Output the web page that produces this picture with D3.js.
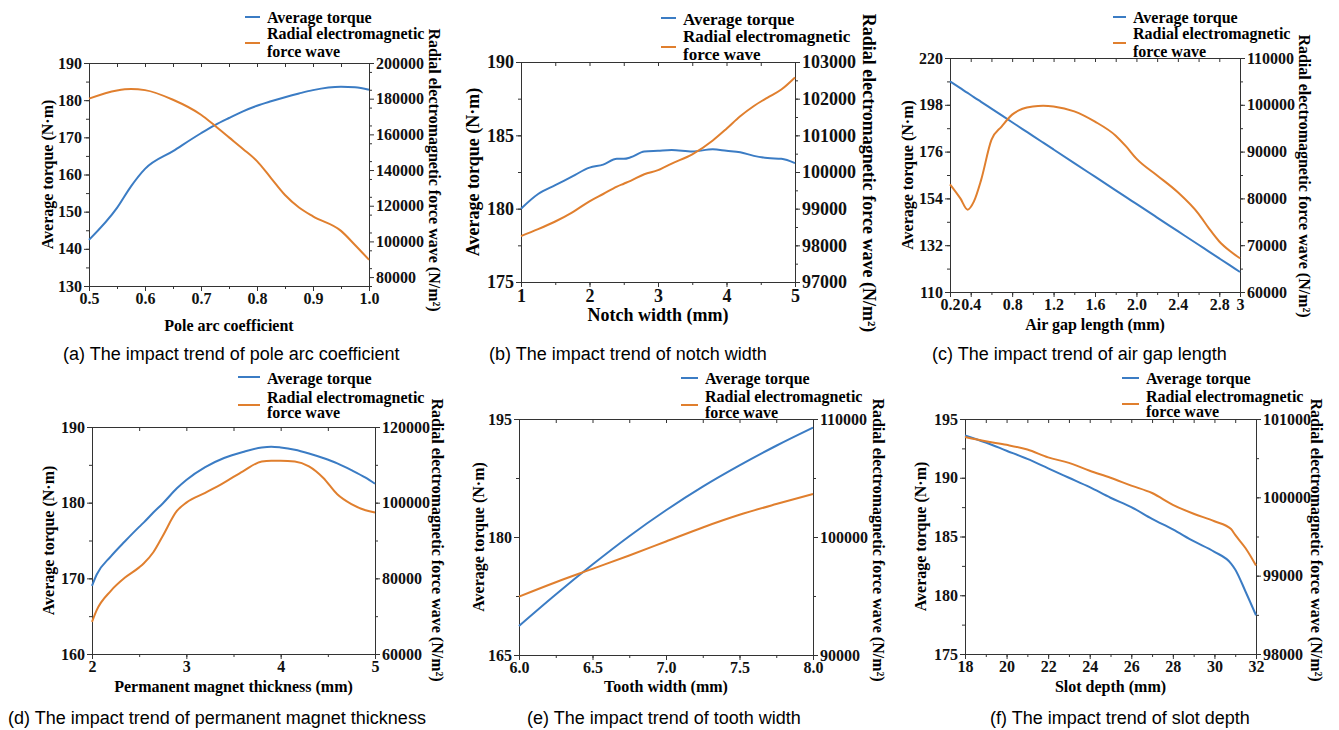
<!DOCTYPE html>
<html>
<head>
<meta charset="utf-8">
<script src="https://cdn.jsdelivr.net/npm/d3@7"></script>
<style>
  body { margin: 0; background: #fff; }
  svg { display: block; }
  .serif { font-family: "Times New Roman", "Liberation Serif", serif; font-weight: bold; }
  .caption { font-family: Arial, "Liberation Sans", sans-serif; font-size: 18px; }
</style>
</head>
<body>
<svg id="chart"></svg>
<script>
// (a) pole arc coefficient
const poleArcX = [0.5, 0.55, 0.575, 0.6, 0.65, 0.7, 0.725, 0.75, 0.775, 0.8, 0.825, 0.85, 0.875, 0.9, 0.95, 0.975, 1.0];
const poleArcTorque = [142.4, 151.0, 156.8, 161.5, 166.3, 171.1, 173.3, 175.2, 177.0, 178.5, 179.7, 180.8, 181.8, 182.7, 183.6, 183.5, 182.8];
const poleArcForce = [180000, 184600, 185400, 184800, 179400, 171000, 164800, 158300, 151800, 145000, 135500, 126000, 119000, 114000, 105900, 98000, 89700];

// (b) notch width
const notchX = [1, 1.25, 1.5, 1.75, 2.0, 2.2, 2.4, 2.5, 2.6, 2.8, 3.0, 3.2, 3.5, 3.8, 4.0, 4.2, 4.4, 4.6, 4.8, 5.0];
const notchTorque = [180.0, 181.0, 181.6, 182.2, 182.8, 183.0, 183.4, 183.4, 183.5, 183.9, 183.95, 184.0, 183.9, 184.05, 183.95, 183.85, 183.6, 183.45, 183.4, 183.1];
const notchForce = [98250, 98440, 98650, 98900, 99200, 99400, 99600, 99680, 99760, 99940, 100050, 100230, 100480, 100860, 101180, 101520, 101800, 102030, 102250, 102580];

// (c) air gap length
const airGapX = [0.2, 0.3, 0.37, 0.43, 0.5, 0.6, 0.7, 0.8, 0.9, 1.0, 1.1, 1.2, 1.4, 1.6, 1.8, 1.9, 2.0, 2.2, 2.4, 2.6, 2.7, 2.8, 2.9, 3.0];
const airGapTorque = [209.0, 205.8, 203.6, 201.6, 199.4, 196.2, 193.0, 189.8, 186.6, 183.4, 180.2, 177.0, 170.6, 164.2, 157.8, 154.6, 151.4, 145.0, 138.6, 132.2, 129.0, 125.8, 122.6, 119.4];
const airGapForce = [83000, 80000, 77600, 79300, 83900, 92500, 95400, 97900, 99150, 99650, 99800, 99650, 98600, 96400, 93400, 91100, 88500, 84900, 81300, 76700, 73600, 70800, 68800, 67200];

// (d) permanent magnet thickness
const magnetX = [2.0, 2.05, 2.2, 2.35, 2.5, 2.55, 2.65, 2.75, 2.9, 3.0, 3.2, 3.4, 3.6, 3.8, 3.9, 4.0, 4.15, 4.3, 4.45, 4.6, 4.75, 4.9, 5.0];
const magnetTorque = [169.0, 170.5, 172.9, 174.9, 176.8, 177.4, 178.7, 179.9, 181.9, 183.0, 184.7, 185.9, 186.7, 187.3, 187.4, 187.3, 187.0, 186.5, 185.9, 185.2, 184.3, 183.3, 182.5];
const magnetForce = [68500, 71600, 76700, 80200, 82900, 84000, 86900, 91200, 97800, 100000, 102600, 105300, 108300, 110900, 111100, 111100, 110900, 109600, 106600, 102200, 99600, 98000, 97400];

// (e) tooth width
const toothX = [6.0, 6.25, 6.5, 6.75, 7.0, 7.25, 7.5, 7.75, 8.0];
const toothTorque = [168.7, 172.7, 176.5, 180.1, 183.4, 186.4, 189.1, 191.6, 193.9];
const toothForce = [94950, 96170, 97300, 98430, 99620, 100810, 101880, 102790, 103640];

// (f) slot depth
const slotX = [18, 19, 20, 21, 22, 23, 24, 25, 26, 27, 28, 29, 30, 30.8, 31, 31.5, 32];
const slotTorque = [193.6, 193.0, 192.3, 191.6, 190.8, 190.0, 189.2, 188.3, 187.5, 186.5, 185.6, 184.6, 183.7, 182.7, 182.2, 180.3, 178.3];
const slotForce = [100770, 100715, 100670, 100610, 100510, 100440, 100340, 100250, 100150, 100055, 99905, 99790, 99695, 99595, 99520, 99350, 99130];

// tick labels
const poleArcTicks = [0.5, 0.6, 0.7, 0.8, 0.9, 1.0];
const notchTicks = [1, 2, 3, 4, 5];
const airGapTicks = [0.2, 0.4, 0.8, 1.2, 1.6, 2.0, 2.4, 2.8, 3];
const airGapTickLabels = ["0.2", "0.4", "0.8", "1.2", "1.6", "2.0", "2.4", "2.8", "3"];
const magnetTicks = [2, 3, 4, 5];
const toothTicks = [6.0, 6.5, 7.0, 7.5, 8.0];
const slotTicks = [18, 20, 22, 24, 26, 28, 30, 32];

const legendLabels = ["Average torque", "Radial electromagnetic", "force wave"];
const leftTitle = "Average torque (N·m)";
const rightTitle = "Radial electromagnetic force wave (N/m²)";

const BLUE = "#3b7cc4";
const ORANGE = "#e07f2e";
const AXIS = "#333";

class DualAxisChart {
  constructor(svg, cfg) {
    this.svg = svg;
    this.cfg = cfg;
    this.initVis();
  }

  initVis() {
    let vis = this;
    const c = vis.cfg;
    vis.g = vis.svg.append("g");

    vis.x = d3.scaleLinear().domain(c.xDomain).range([c.box.l, c.box.r]);
    vis.yL = d3.scaleLinear().domain(c.yLDomain).range([c.box.b, c.box.t]);
    vis.yR = d3.scaleLinear().domain(c.yRDomain).range([c.box.b, c.box.t]);

    const fs = c.tickSize || 16;
    const style = (sel) => {
      sel.attr("font-family", '"Times New Roman", "Liberation Serif", serif')
        .attr("font-weight", "bold")
        .attr("font-size", fs);
      sel.selectAll("path").attr("stroke", AXIS);
      sel.selectAll("line").attr("stroke", AXIS);
      sel.selectAll("text").attr("fill", "#111");
    };
    const minorVals = (dom, step) => d3.range(dom[0], dom[1] + step * 0.01, step);

    // minor ticks first so the labelled axes sit on top
    vis.g.append("g").attr("transform", `translate(0,${c.box.b})`)
        .call(d3.axisBottom(vis.x).tickValues(minorVals(c.xDomain, c.xMinor)).tickFormat("").tickSize(3).tickSizeOuter(0))
        .call(style);
    vis.g.append("g").attr("transform", `translate(${c.box.l},0)`)
        .call(d3.axisLeft(vis.yL).tickValues(minorVals(c.yLDomain, c.yLMinor)).tickFormat("").tickSize(3).tickSizeOuter(0))
        .call(style);
    vis.g.append("g").attr("transform", `translate(${c.box.r},0)`)
        .call(d3.axisRight(vis.yR).tickValues(minorVals(c.yRDomain, c.yRMinor)).tickFormat("").tickSize(3).tickSizeOuter(0))
        .call(style);

    // top frame with inward ticks
    vis.g.append("g").attr("transform", `translate(0,${c.box.t})`)
        .call(d3.axisBottom(vis.x).tickValues(minorVals(c.xDomain, c.xMinor)).tickFormat("").tickSize(4).tickSizeOuter(0))
        .call(style);

    vis.g.append("g").attr("transform", `translate(0,${c.box.b})`)
        .call(d3.axisBottom(vis.x).tickValues(c.xTicks).tickFormat(c.xFormat).tickSize(5).tickSizeOuter(0).tickPadding(2))
        .call(style);
    vis.g.append("g").attr("transform", `translate(${c.box.l},0)`)
        .call(d3.axisLeft(vis.yL).tickValues(c.yLTicks).tickFormat(d3.format("d")).tickSize(5).tickSizeOuter(0).tickPadding(2))
        .call(style);
    vis.g.append("g").attr("transform", `translate(${c.box.r},0)`)
        .call(d3.axisRight(vis.yR).tickValues(c.yRTicks).tickFormat(d3.format("d")).tickSize(5).tickSizeOuter(0).tickPadding(2))
        .call(style);

    // axis titles
    const ts = c.titleSize || 16;
    vis.g.append("text").attr("class", "serif")
        .attr("x", (c.box.l + c.box.r) / 2).attr("y", c.xTitleY)
        .attr("text-anchor", "middle").attr("font-size", ts)
        .text(c.xTitle);
    vis.g.append("text").attr("class", "serif")
        .attr("transform", `translate(${c.leftTitleX},${(c.box.t + c.box.b) / 2}) rotate(-90)`)
        .attr("text-anchor", "middle").attr("dy", "0.35em").attr("font-size", ts)
        .text(leftTitle);
    vis.g.append("text").attr("class", "serif")
        .attr("transform", `translate(${c.rightTitleX},${c.rightTitleY}) rotate(90)`)
        .attr("text-anchor", "middle").attr("dy", "0.35em").attr("font-size", ts)
        .text(rightTitle);

    // caption
    vis.g.append("text").attr("class", "caption")
        .attr("x", c.captionX).attr("y", c.captionY)
        .text(c.caption);

    vis.renderVis();
  }

  renderVis() {
    let vis = this;
    const c = vis.cfg;
    const torque = c.xs.map((d, i) => [d, c.torque[i]]);
    const force = c.xs.map((d, i) => [d, c.force[i]]);

    vis.g.append("path").datum(torque)
        .attr("fill", "none").attr("stroke", BLUE).attr("stroke-width", 2)
        .attr("d", d3.line().x(d => vis.x(d[0])).y(d => vis.yL(d[1])).curve(d3.curveMonotoneX));
    vis.g.append("path").datum(force)
        .attr("fill", "none").attr("stroke", ORANGE).attr("stroke-width", 2)
        .attr("d", d3.line().x(d => vis.x(d[0])).y(d => vis.yR(d[1])).curve(d3.curveMonotoneX));

    // legend
    const lg = c.legend;
    const ls = c.legendSize || 16;
    vis.g.append("line").attr("x1", lg.x).attr("x2", lg.x + lg.w)
        .attr("y1", lg.y).attr("y2", lg.y).attr("stroke", BLUE).attr("stroke-width", 2);
    vis.g.append("line").attr("x1", lg.x).attr("x2", lg.x + lg.w)
        .attr("y1", lg.y + lg.oy).attr("y2", lg.y + lg.oy).attr("stroke", ORANGE).attr("stroke-width", 2);
    legendLabels.forEach((t, i) => {
      vis.g.append("text").attr("class", "serif")
          .attr("x", lg.x + lg.w + 7).attr("y", lg.y + lg.dy[i])
          .attr("dy", "0.35em").attr("font-size", ls)
          .text(t);
    });
  }
}

const svg = d3.select("#chart").attr("width", 1339).attr("height", 730);

const panels = [
  {
    box: { l: 89, r: 369, t: 63, b: 286 },
    xs: poleArcX, torque: poleArcTorque, force: poleArcForce,
    xDomain: [0.5, 1.0], xTicks: poleArcTicks, xFormat: d3.format(".1f"), xMinor: 0.05,
    yLDomain: [130, 190], yLTicks: d3.range(130, 191, 10), yLMinor: 5,
    yRDomain: [75000, 200000], yRTicks: d3.range(80000, 200001, 20000), yRMinor: 10000,
    xTitle: "Pole arc coefficient", xTitleY: 331,
    leftTitleX: 47, rightTitleX: 435, rightTitleY: 170,
    legend: { x: 245, w: 15, y: 17, oy: 26, dy: [0, 16, 34] },
    caption: "(a) The impact trend of pole arc coefficient", captionX: 63, captionY: 360
  },
  {
    box: { l: 521, r: 795, t: 62, b: 282 },
    xs: notchX, torque: notchTorque, force: notchForce,
    xDomain: [1, 5], xTicks: notchTicks, xFormat: d3.format("d"), xMinor: 0.5,
    yLDomain: [175, 190], yLTicks: d3.range(175, 191, 5), yLMinor: 2.5,
    yRDomain: [97000, 103000], yRTicks: d3.range(97000, 103001, 1000), yRMinor: 500,
    xTitle: "Notch width (mm)", xTitleY: 321,
    tickSize: 18, titleSize: 18, legendSize: 17,
    leftTitleX: 473, rightTitleX: 869, rightTitleY: 173,
    legend: { x: 661, w: 15, y: 18, oy: 29, dy: [1, 18, 36] },
    caption: "(b) The impact trend of notch width", captionX: 489, captionY: 360
  },
  {
    box: { l: 950, r: 1240, t: 58, b: 292 },
    xs: airGapX, torque: airGapTorque, force: airGapForce,
    xDomain: [0.2, 3], xTicks: airGapTicks, xFormat: (d, i) => airGapTickLabels[i], xMinor: 0.2,
    yLDomain: [110, 220], yLTicks: d3.range(110, 221, 22), yLMinor: 11,
    yRDomain: [60000, 110000], yRTicks: d3.range(60000, 110001, 10000), yRMinor: 5000,
    xTitle: "Air gap length (mm)", xTitleY: 330,
    leftTitleX: 907, rightTitleX: 1305, rightTitleY: 176,
    legend: { x: 1113, w: 13, y: 17, oy: 26, dy: [0, 16, 34] },
    caption: "(c) The impact trend of air gap length", captionX: 932, captionY: 360
  },
  {
    box: { l: 92, r: 375, t: 427, b: 654 },
    xs: magnetX, torque: magnetTorque, force: magnetForce,
    xDomain: [2, 5], xTicks: magnetTicks, xFormat: d3.format("d"), xMinor: 0.5,
    yLDomain: [160, 190], yLTicks: d3.range(160, 191, 10), yLMinor: 5,
    yRDomain: [60000, 120000], yRTicks: d3.range(60000, 120001, 20000), yRMinor: 10000,
    xTitle: "Permanent magnet thickness (mm)", xTitleY: 692,
    leftTitleX: 48, rightTitleX: 438, rightTitleY: 540,
    legend: { x: 238, w: 22, y: 377, oy: 28, dy: [1, 20, 35] },
    caption: "(d) The impact trend of permanent magnet thickness", captionX: 8, captionY: 724
  },
  {
    box: { l: 519, r: 813, t: 419, b: 655 },
    xs: toothX, torque: toothTorque, force: toothForce,
    xDomain: [6, 8], xTicks: toothTicks, xFormat: d3.format(".1f"), xMinor: 0.25,
    yLDomain: [165, 195], yLTicks: d3.range(165, 196, 15), yLMinor: 7.5,
    yRDomain: [90000, 110000], yRTicks: d3.range(90000, 110001, 10000), yRMinor: 5000,
    xTitle: "Tooth width (mm)", xTitleY: 692,
    leftTitleX: 478, rightTitleX: 879, rightTitleY: 540,
    legend: { x: 681, w: 17, y: 378, oy: 27, dy: [0, 18, 34] },
    caption: "(e) The impact trend of tooth width", captionX: 527, captionY: 724
  },
  {
    box: { l: 965, r: 1256, t: 419, b: 654 },
    xs: slotX, torque: slotTorque, force: slotForce,
    xDomain: [18, 32], xTicks: slotTicks, xFormat: d3.format("d"), xMinor: 1,
    yLDomain: [175, 195], yLTicks: d3.range(175, 196, 5), yLMinor: 2.5,
    yRDomain: [98000, 101000], yRTicks: d3.range(98000, 101001, 1000), yRMinor: 500,
    xTitle: "Slot depth (mm)", xTitleY: 692,
    leftTitleX: 920, rightTitleX: 1317, rightTitleY: 540,
    legend: { x: 1122, w: 17, y: 378, oy: 26, dy: [0, 18, 33] },
    caption: "(f) The impact trend of slot depth", captionX: 990, captionY: 724
  }
];

panels.forEach(p => new DualAxisChart(svg, p));
</script>
</body>
</html>
